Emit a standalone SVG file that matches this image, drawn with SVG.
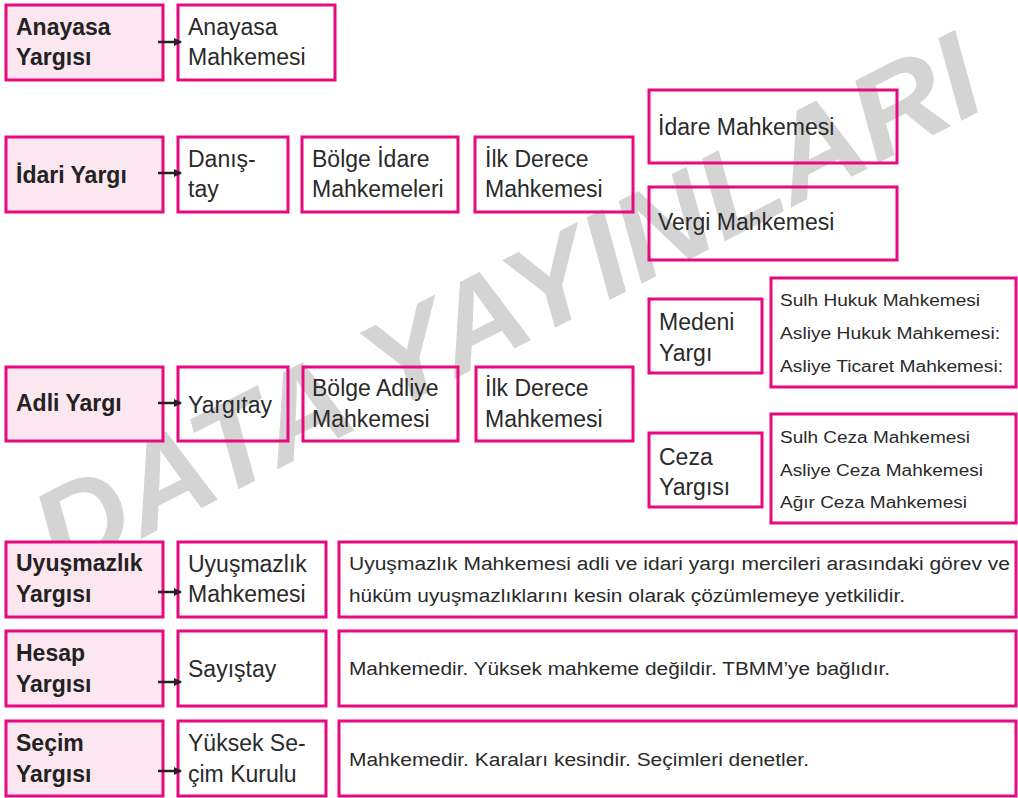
<svg xmlns="http://www.w3.org/2000/svg" width="1018" height="798" viewBox="0 0 1018 798">
<defs>
<style>
.pk{fill:#fce6ef;stroke:#e8097f;stroke-width:3}
.wb{fill:none;stroke:#e8097f;stroke-width:3}
.b{font-family:"Liberation Sans",Arial,sans-serif;font-weight:bold;font-size:23px;fill:#222}
.r{font-family:"Liberation Sans",Arial,sans-serif;font-size:23px;fill:#2a2a2a}
.s{font-family:"Liberation Sans",Arial,sans-serif;font-size:16px;fill:#2a2a2a}
.d{font-family:"Liberation Sans",Arial,sans-serif;font-size:18px;fill:#2a2a2a}
.wm{font-family:"Liberation Sans",Arial,sans-serif;font-weight:bold;font-style:italic;font-size:122px;fill:#d4d4d4}
.ar{stroke:#222;stroke-width:2.5;fill:none}
</style>
<marker id="ah" markerWidth="8" markerHeight="8" refX="7" refY="4" orient="auto" markerUnits="userSpaceOnUse">
<path d="M0,0 L8,4 L0,8 Z" fill="#222"/>
</marker>
</defs>
<rect width="1018" height="798" fill="#fff"/>
<g id="watermark">
<text class="wm" transform="translate(60,580) rotate(-27)" textLength="1045" lengthAdjust="spacingAndGlyphs">DATA YAYINLARI</text>
</g>

<g id="anayasa-yargisi"><rect class="pk" x="6" y="5" width="157" height="75"/><text class="b" x="16" y="35">Anayasa</text><text class="b" x="16" y="65">Yargısı</text></g>
<g id="anayasa-mahkemesi"><rect class="wb" x="178" y="5" width="157" height="75"/><text class="r" x="188" y="35">Anayasa</text><text class="r" x="188" y="65">Mahkemesi</text></g>

<g id="idari-yargi"><rect class="pk" x="6" y="137" width="157" height="75"/><text class="b" x="16" y="183">İdari Yargı</text></g>
<g id="danistay"><rect class="wb" x="178" y="137" width="110" height="75"/><text class="r" x="188" y="167">Danış-</text><text class="r" x="188" y="197">tay</text></g>
<g id="bolge-idare"><rect class="wb" x="302" y="137" width="156" height="75"/><text class="r" x="312" y="167">Bölge İdare</text><text class="r" x="312" y="197">Mahkemeleri</text></g>
<g id="ilk-derece-idari"><rect class="wb" x="475" y="137" width="158" height="75"/><text class="r" x="485" y="167">İlk Derece</text><text class="r" x="485" y="197">Mahkemesi</text></g>
<g id="idare-mahkemesi"><rect class="wb" x="649" y="90" width="248" height="73"/><text class="r" x="658" y="135">İdare Mahkemesi</text></g>
<g id="vergi-mahkemesi"><rect class="wb" x="649" y="187" width="248" height="73"/><text class="r" x="658" y="230">Vergi Mahkemesi</text></g>

<g id="adli-yargi"><rect class="pk" x="6" y="367" width="157" height="74"/><text class="b" x="16" y="411">Adli Yargı</text></g>
<g id="yargitay"><rect class="wb" x="178" y="367" width="110" height="74"/><text class="r" x="188" y="413">Yargıtay</text></g>
<g id="bolge-adliye"><rect class="wb" x="303" y="367" width="155" height="74"/><text class="r" x="312" y="396">Bölge Adliye</text><text class="r" x="312" y="427">Mahkemesi</text></g>
<g id="ilk-derece-adli"><rect class="wb" x="476" y="367" width="157" height="74"/><text class="r" x="485" y="396">İlk Derece</text><text class="r" x="485" y="427">Mahkemesi</text></g>
<g id="medeni-yargi"><rect class="wb" x="649" y="299" width="113" height="74"/><text class="r" x="659" y="330">Medeni</text><text class="r" x="659" y="361">Yargı</text></g>
<g id="hukuk-listesi"><rect class="wb" x="771" y="278" width="245" height="109"/><text class="s" x="780" y="306" textLength="200" lengthAdjust="spacingAndGlyphs">Sulh Hukuk Mahkemesi</text><text class="s" x="780" y="339" textLength="220" lengthAdjust="spacingAndGlyphs">Asliye Hukuk Mahkemesi:</text><text class="s" x="780" y="372" textLength="223" lengthAdjust="spacingAndGlyphs">Asliye Ticaret Mahkemesi:</text></g>
<g id="ceza-yargisi"><rect class="wb" x="649" y="433" width="113" height="74"/><text class="r" x="659" y="465">Ceza</text><text class="r" x="659" y="495">Yargısı</text></g>
<g id="ceza-listesi"><rect class="wb" x="771" y="414" width="245" height="109"/><text class="s" x="780" y="443" textLength="190" lengthAdjust="spacingAndGlyphs">Sulh Ceza Mahkemesi</text><text class="s" x="780" y="476" textLength="203" lengthAdjust="spacingAndGlyphs">Asliye Ceza Mahkemesi</text><text class="s" x="780" y="508" textLength="187" lengthAdjust="spacingAndGlyphs">Ağır Ceza Mahkemesi</text></g>

<g id="uyusmazlik-yargisi"><rect class="pk" x="6" y="542" width="157" height="75"/><text class="b" x="16" y="571">Uyuşmazlık</text><text class="b" x="16" y="602">Yargısı</text></g>
<g id="uyusmazlik-mahkemesi"><rect class="wb" x="178" y="542" width="148" height="75"/><text class="r" x="188" y="572">Uyuşmazlık</text><text class="r" x="188" y="602">Mahkemesi</text></g>
<g id="uyusmazlik-aciklama"><rect class="wb" x="339" y="542" width="677" height="75"/><text class="d" x="349" y="570" textLength="661" lengthAdjust="spacingAndGlyphs">Uyuşmazlık Mahkemesi adli ve idari yargı mercileri arasındaki görev ve</text><text class="d" x="349" y="602" textLength="556" lengthAdjust="spacingAndGlyphs">hüküm uyuşmazlıklarını kesin olarak çözümlemeye yetkilidir.</text></g>

<g id="hesap-yargisi"><rect class="pk" x="6" y="631" width="157" height="75"/><text class="b" x="16" y="661">Hesap</text><text class="b" x="16" y="692">Yargısı</text></g>
<g id="sayistay"><rect class="wb" x="178" y="631" width="148" height="75"/><text class="r" x="188" y="677">Sayıştay</text></g>
<g id="hesap-aciklama"><rect class="wb" x="339" y="631" width="677" height="75"/><text class="d" x="349" y="675" textLength="541" lengthAdjust="spacingAndGlyphs">Mahkemedir. Yüksek mahkeme değildir. TBMM’ye bağlıdır.</text></g>

<g id="secim-yargisi"><rect class="pk" x="6" y="721" width="157" height="75"/><text class="b" x="16" y="751">Seçim</text><text class="b" x="16" y="782">Yargısı</text></g>
<g id="yuksek-secim-kurulu"><rect class="wb" x="178" y="721" width="148" height="75"/><text class="r" x="188" y="751">Yüksek Se-</text><text class="r" x="188" y="782">çim Kurulu</text></g>
<g id="secim-aciklama"><rect class="wb" x="339" y="721" width="677" height="75"/><text class="d" x="349" y="766" textLength="460" lengthAdjust="spacingAndGlyphs">Mahkemedir. Karaları kesindir. Seçimleri denetler.</text></g>

<g id="connectors">
<line class="ar" x1="158" y1="42" x2="181" y2="42" marker-end="url(#ah)"/>
<line class="ar" x1="158" y1="173" x2="181" y2="173" marker-end="url(#ah)"/>
<line class="ar" x1="158" y1="403" x2="181" y2="403" marker-end="url(#ah)"/>
<line class="ar" x1="158" y1="592" x2="181" y2="592" marker-end="url(#ah)"/>
<line class="ar" x1="158" y1="682" x2="181" y2="682" marker-end="url(#ah)"/>
<line class="ar" x1="158" y1="771" x2="181" y2="771" marker-end="url(#ah)"/>
</g>
</svg>
